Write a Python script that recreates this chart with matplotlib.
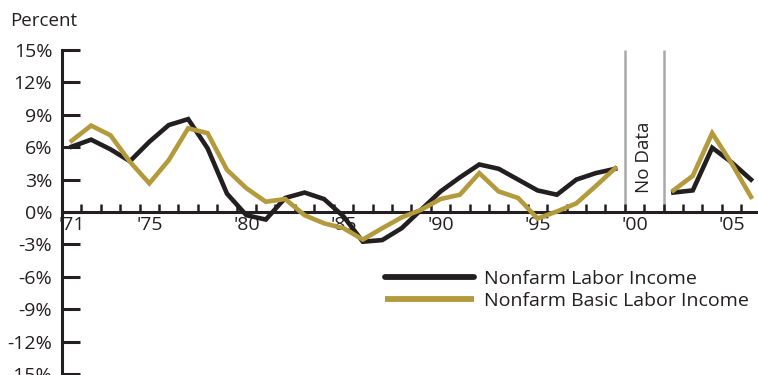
import numpy as np
import matplotlib.pyplot as plt
from matplotlib.lines import Line2D

# Year-over-year growth, percent
years_a = list(range(1971, 2000))
years_b = list(range(2002, 2007))

labor_a = [6.05, 6.7, 5.8, 4.7, 6.5, 8.05, 8.6, 5.9, 1.7, -0.3, -0.7, 1.3, 1.8, 1.2, -0.4,
           -2.75, -2.6, -1.5, 0.2, 1.9, 3.2, 4.4, 4.0, 3.0, 2.0, 1.6, 3.0, 3.6, 4.0]
labor_b = [1.8, 2.0, 5.95, 4.6, 3.0]

basic_a = [6.6, 8.0, 7.1, 4.65, 2.65, 4.8, 7.75, 7.3, 3.9, 2.2, 0.95, 1.2, -0.3, -1.05, -1.5,
           -2.55, -1.5, -0.5, 0.2, 1.2, 1.6, 3.6, 1.9, 1.3, -0.6, 0.05, 0.8, 2.4, 4.05]
basic_b = [2.0, 3.35, 7.3, 4.5, 1.4]

label_years = [1971, 1975, 1980, 1985, 1990, 1995, 2000, 2005]
label_text = ["'71", "'75", "'80", "'85", "'90", "'95", "'00", "'05"]
y_ticks = [15, 12, 9, 6, 3, 0, -3, -6, -9, -12, -15]

BLACK = '#231f20'
GOLD = '#b39a3c'
GRAY = '#a7a9ac'

plt.rcParams['font.family'] = ['Open Sans', 'DejaVu Sans']

fig = plt.figure(figsize=(7.58, 3.75), dpi=100)
ax = fig.add_axes([62 / 758, 1 / 375, 696 / 758, 324 / 375])

ax.set_xlim(1970.5, 2006.36)
ax.set_ylim(-15, 15)

# no data gap
for gx in (1999.5, 2001.5):
    ax.plot([gx, gx], [0, 15], color=GRAY, lw=1.8, zorder=1, solid_capstyle='butt')
ax.text(2000.5, 5.1, 'No Data', rotation=90, ha='center', va='center',
        fontsize=13.5, color=BLACK)

lw = 3.3
ax.plot(years_a, labor_a, color=BLACK, lw=lw, zorder=3, solid_joinstyle='miter')
ax.plot(years_b, labor_b, color=BLACK, lw=lw, zorder=3, solid_joinstyle='miter')
ax.plot(years_a, basic_a, color=GOLD, lw=lw, zorder=4, solid_joinstyle='miter')
ax.plot(years_b, basic_b, color=GOLD, lw=lw, zorder=4, solid_joinstyle='miter')

for s in ('top', 'right'):
    ax.spines[s].set_visible(False)
ax.spines['bottom'].set_position(('data', 0))
ax.spines['bottom'].set_linewidth(2.2)
ax.spines['left'].set_linewidth(2.2)
ax.spines['bottom'].set_color(BLACK)
ax.spines['left'].set_color(BLACK)

ax.set_yticks(y_ticks)
ax.set_yticklabels([f'{v}%' for v in y_ticks])
ax.tick_params(axis='y', direction='in', length=13, width=2.2, color=BLACK,
               labelsize=14, pad=7, labelcolor=BLACK)

ax.set_xticks(label_years)
ax.set_xticklabels(label_text)
ax.set_xticks(np.arange(1971.5, 2006, 1), minor=True)
ax.tick_params(axis='x', which='major', length=0, labelsize=14, pad=3, labelcolor=BLACK)
ax.tick_params(axis='x', which='minor', direction='in', length=6, width=1.8, color=BLACK)

fig.text(10 / 758, 1 - 26 / 375, 'Percent', fontsize=13.5, color=BLACK, va='baseline')

handles = [Line2D([], [], color=BLACK, lw=4.2, solid_capstyle='round'),
           Line2D([], [], color=GOLD, lw=4.2, solid_capstyle='butt')]
fig.legend(handles, ['Nonfarm Labor Income', 'Nonfarm Basic Labor Income'],
           loc='center left', bbox_to_anchor=(385 / 758, 1 - 290 / 375),
           frameon=False, fontsize=14, handlelength=4.6, handletextpad=0.5,
           labelspacing=0.2, borderpad=0, borderaxespad=0, labelcolor=BLACK)

fig.savefig('out.png', dpi=100)
